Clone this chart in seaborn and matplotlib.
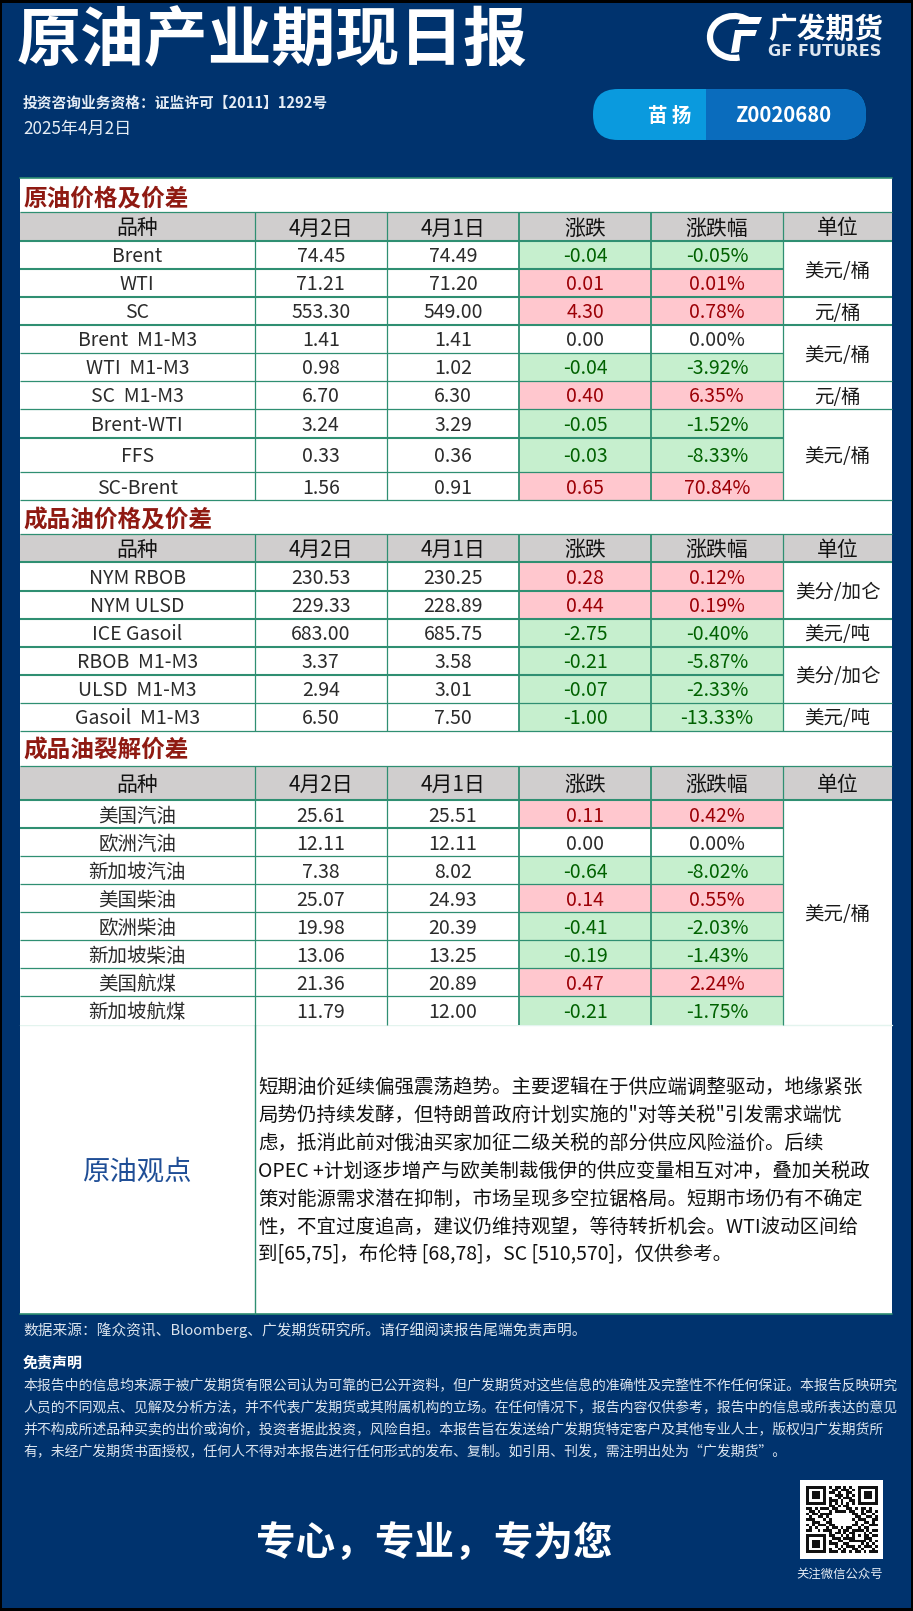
import numpy as np
import pandas as pd
import seaborn as sns
from matplotlib import pyplot as plt
from matplotlib.colors import ListedColormap
from matplotlib.patches import Arc, FancyBboxPatch, Polygon, Rectangle
from matplotlib.transforms import ScaledTranslation

sns.set_theme(style="white")
plt.rcParams['font.family'] = ['Noto Sans CJK SC', 'DejaVu Sans']

W, H = 913, 1611
NAVY = "#00336e"
LINE = "#2f8f72"
DARK_RED = "#8f1a12"

header = ["品种", "4月2日", "4月1日", "涨跌", "涨跌幅", "单位"]

# crude table
crude_names = ["Brent", "WTI", "SC", "Brent  M1-M3", "WTI  M1-M3", "SC  M1-M3", "Brent-WTI", "FFS", "SC-Brent"]
crude_today = [74.45, 71.21, 553.30, 1.41, 0.98, 6.70, 3.24, 0.33, 1.56]
crude_prev = [74.49, 71.20, 549.00, 1.41, 1.02, 6.30, 3.29, 0.36, 0.91]
crude_chg = [-0.04, 0.01, 4.30, 0.00, -0.04, 0.40, -0.05, -0.03, 0.65]
crude_pct = [-0.05, 0.01, 0.78, 0.00, -3.92, 6.35, -1.52, -8.33, 70.84]
crude_units = ["美元/桶", "元/桶", "美元/桶", "元/桶", "美元/桶"]
crude_unit_rows = [2, 1, 2, 1, 3]

# products table
prod_names = ["NYM RBOB", "NYM ULSD", "ICE Gasoil", "RBOB  M1-M3", "ULSD  M1-M3", "Gasoil  M1-M3"]
prod_today = [230.53, 229.33, 683.00, 3.37, 2.94, 6.50]
prod_prev = [230.25, 228.89, 685.75, 3.58, 3.01, 7.50]
prod_chg = [0.28, 0.44, -2.75, -0.21, -0.07, -1.00]
prod_pct = [0.12, 0.19, -0.40, -5.87, -2.33, -13.33]
prod_units = ["美分/加仑", "美元/吨", "美分/加仑", "美元/吨"]
prod_unit_rows = [2, 1, 2, 1]

# crack table
crack_names = ["美国汽油", "欧洲汽油", "新加坡汽油", "美国柴油", "欧洲柴油", "新加坡柴油", "美国航煤", "新加坡航煤"]
crack_today = [25.61, 12.11, 7.38, 25.07, 19.98, 13.06, 21.36, 11.79]
crack_prev = [25.51, 12.11, 8.02, 24.93, 20.39, 13.25, 20.89, 12.00]
crack_chg = [0.11, 0.00, -0.64, 0.14, -0.41, -0.19, 0.47, -0.21]
crack_pct = [0.42, 0.00, -8.02, 0.55, -2.03, -1.43, 2.24, -1.75]
crack_units = ["美元/桶"]
crack_unit_rows = [8]

view_lines = [
    "短期油价延续偏强震荡趋势。主要逻辑在于供应端调整驱动，地缘紧张",
    "局势仍持续发酵，但特朗普政府计划实施的\"对等关税\"引发需求端忧",
    "虑，抵消此前对俄油买家加征二级关税的部分供应风险溢价。后续",
    "OPEC +计划逐步增产与欧美制裁俄伊的供应变量相互对冲，叠加关税政",
    "策对能源需求潜在抑制，市场呈现多空拉锯格局。短期市场仍有不确定",
    "性，不宜过度追高，建议仍维持观望，等待转折机会。WTI波动区间给",
    "到[65,75]，布伦特 [68,78]，SC [510,570]，仅供参考。",
]
disclaimer_lines = [
    "本报告中的信息均来源于被广发期货有限公司认为可靠的已公开资料，但广发期货对这些信息的准确性及完整性不作任何保证。本报告反映研究",
    "人员的不同观点、见解及分析方法，并不代表广发期货或其附属机构的立场。在任何情况下，报告内容仅供参考，报告中的信息或所表达的意见",
    "并不构成所述品种买卖的出价或询价，投资者据此投资，风险自担。本报告旨在发送给广发期货特定客户及其他专业人士，版权归广发期货所",
    "有，未经广发期货书面授权，任何人不得对本报告进行任何形式的发布、复制。如引用、刊发，需注明出处为“广发期货”。",
]

qr_rows = [
    "1111111010110101001111111", "1000001001101110101000001", "1011101011010011001011101",
    "1011101000111010101011101", "1011101010010111001011101", "1000001011101001101000001",
    "1111111010101010101111111", "0000000011010110000000000", "1101011101100011010110100",
    "0110100010111101100101101", "1011011110000000110110010", "0100110100000000011001101",
    "1110001010000000101110011", "0011100110000000010011010", "1010111011000000110100111",
    "0101000101101011001011000", "1100101110010110111101011", "0000000010110101100010100",
    "1111111011001010101011011", "1000001001110111100011100", "1011101010011001111110101",
    "1011101011100110000101010", "1011101000101011101011101", "1000001010010100110100010",
    "1111111011101101011010111",
]

# layout in pixels
col_px = [20, 254.5, 387, 519, 651, 783, 892]
crude_px = [212, 241, 269, 297, 325, 353, 381, 409, 438, 472, 500]
prod_px = [534, 562, 591, 619, 647, 675, 703, 731]
crack_px = [766, 800, 828, 856, 884, 912, 940, 968, 996, 1025]

fig = plt.figure(figsize=(W / 100, H / 100), dpi=100, facecolor="black")
bg = fig.add_axes([0, 0, 1, 1])
bg.set_xlim(0, W)
bg.set_ylim(H, 0)
bg.axis("off")


def txt(x, y, s, size, color="white", **kw):
    kw.setdefault("va", "center")
    bg.text(x, y, s, fontsize=size, color=color, **kw)


bg.add_patch(Rectangle((2, 3), W - 4, H - 6, color=NAVY, lw=0))
bg.add_patch(Rectangle((20, 178), 872, 1136, color="white", lw=0))
bg.plot([20, 892], [178, 178], color=LINE, lw=1.2)
bg.plot([20, 892], [1314, 1314], color=LINE, lw=1.2)
bg.plot([20, 892], [1025, 1025], color="#e3f4ee", lw=1)
bg.plot([254.5, 254.5], [1025, 1314], color=LINE, lw=1)

# header band
txt(17, 42, "原油产业期现日报", 46, fontweight="bold")
txt(23, 103, "投资咨询业务资格：证监许可【2011】1292号", 10.6, fontweight="bold", color="#e6edf5")
txt(23, 129, "2025年4月2日", 12.3, color="#e6edf5")

# logo
bg.add_patch(Arc((734, 37), 48, 42, theta1=75, theta2=315, color="white", lw=4.5))
bg.add_patch(Polygon([(741, 17), (762, 17), (759, 24), (738, 24)], color="white", lw=0))
bg.add_patch(Polygon([(737, 30), (757, 30), (755, 36), (735, 36)], color="white", lw=0))
bg.add_patch(Polygon([(735, 30), (742, 30), (739, 52), (731, 53)], color="white", lw=0))
txt(768, 29, "广发期货", 20.7, fontweight="bold")
txt(768, 51, "GF FUTURES", 11.6, fontweight="bold", color="#dfe7f0", family="DejaVu Sans")

# analyst pill
pill = FancyBboxPatch((593, 89), 273, 51, boxstyle="round,pad=0,rounding_size=25", color="#0a9ade", lw=0)
bg.add_patch(pill)
right = FancyBboxPatch((593, 89), 273, 51, boxstyle="round,pad=0,rounding_size=25", color="#0a6cbd", lw=0)
bg.add_patch(right)
right.set_clip_path(Rectangle((706, 80), 170, 70, transform=bg.transData))
txt(670, 116, "苗 扬", 14, fontweight="bold", ha="center")
txt(783, 116, "Z0020680", 14.6, fontweight="bold", ha="center")

# section titles
for y, s in zip([198, 520, 751], ["原油价格及价差", "成品油价格及价差", "成品油裂解价差"]):
    txt(23, y, s, 17, color=DARK_RED, fontweight="bold")


def draw_table(names, today, prev, chg, pct, units, unit_rows, row_px, thick, faint_last=False):
    n = len(names)
    df = pd.DataFrame({"品种": names, "today": today, "prev": prev, "chg": chg, "pct": pct})
    # 0 white, 1 grey header, 2 green, 3 red
    codes = np.zeros((n + 1, 6))
    codes[0, :] = 1
    labels = [header]
    for i, r in df.iterrows():
        c = 3 if r.chg > 0 else (2 if r.chg < 0 else 0)
        codes[i + 1, 3:5] = c
        labels.append([r["品种"], f"{r.today:.2f}", f"{r.prev:.2f}", f"{r.chg:.2f}", f"{r.pct:.2f}%", ""])
    mask = np.zeros_like(codes, dtype=bool)
    mask[1:, 5] = True

    ax = fig.add_axes([col_px[0] / W, 1 - row_px[-1] / H,
                       (col_px[-1] - col_px[0]) / W, (row_px[-1] - row_px[0]) / H])
    sns.heatmap(codes, ax=ax, mask=mask, cmap=ListedColormap(["white", "#d0cece", "#c6efce", "#ffc7ce"]),
                vmin=0, vmax=3, cbar=False, linewidths=0, xticklabels=False, yticklabels=False,
                annot=np.array(labels), fmt="", annot_kws={"fontsize": 14})
    ax.patch.set_alpha(0)

    # uneven column widths and row heights through the axis scales
    col_idx = np.arange(7)
    row_idx = np.arange(n + 2)
    ax.set_xscale("function", functions=(lambda v: np.interp(v, col_idx, col_px),
                                         lambda v: np.interp(v, col_px, col_idx)))
    ax.set_yscale("function", functions=(lambda v: np.interp(v, row_idx, row_px),
                                         lambda v: np.interp(v, row_px, row_idx)))
    ax.set_xlim(0, 6)
    ax.set_ylim(n + 1, 0)
    ax.set_xticks([])
    ax.set_yticks([])
    ax.grid(False)
    for s in ax.spines.values():
        s.set_visible(False)

    # merged unit cells
    unit_edges = np.cumsum([1] + unit_rows)
    for start, stop, u in zip(unit_edges[:-1], unit_edges[1:], units):
        ymid = np.interp((row_px[start] + row_px[stop]) / 2, row_px, row_idx)
        ax.text(5.5, ymid, u, fontsize=14, color="#1a1a1a", ha="center", va="center")

    # colour and nudge the labels down a little
    text_colors = {0: "#2b2b2b", 1: "#111111", 2: "#006100", 3: "#9c0006"}
    nudge = ScaledTranslation(0, -2 / 100, fig.dpi_scale_trans)
    for t in ax.texts:
        x, y = t.get_position()
        if x != 5.5 or y < 1:
            t.set_color(text_colors[int(codes[int(y), int(x)])])
        if y < 1:
            t.set_fontsize(15)
        t.set_transform(ax.transData + nudge)

    # table rules
    for k in range(n + 2):
        if faint_last and k == n + 1:
            continue
        lw = 1.5 if k in thick else 0.9
        right_end = 6 if (k == 0 or k in unit_edges) else 5
        ax.hlines(k, 0, right_end, color=LINE, lw=lw, clip_on=False)
    for j in range(1, 6):
        lw = 1.3 if j in (3, 4) else 0.9
        ax.vlines(j, 0, n + 1, color=LINE, lw=lw, clip_on=False)
    return ax


draw_table(crude_names, crude_today, crude_prev, crude_chg, crude_pct, crude_units, crude_unit_rows,
           crude_px, thick=[1, 2, 3, 4, 8])
draw_table(prod_names, prod_today, prod_prev, prod_chg, prod_pct, prod_units, prod_unit_rows,
           prod_px, thick=[1, 2, 3, 4, 5])
draw_table(crack_names, crack_today, crack_prev, crack_chg, crack_pct, crack_units, crack_unit_rows,
           crack_px, thick=[1, 2], faint_last=True)

# view box
txt(137, 1172, "原油观点", 19.7, color="#1f4e96", ha="center")
for y, s in zip([1087, 1115, 1143, 1171, 1199, 1227, 1255], view_lines):
    txt(258, y, s, 14, color="#111111")

# foot notes
txt(23, 1330, "数据来源：隆众资讯、Bloomberg、广发期货研究所。请仔细阅读报告尾端免责声明。", 10.6, color="#dbe4ee")
txt(23, 1363, "免责声明", 10.8, fontweight="bold")
for y, s in zip([1385, 1407, 1429, 1451], disclaimer_lines):
    txt(23, y, s, 10, color="#dbe4ee")
txt(434, 1543, "专心，专业，专为您", 28.5, fontweight="bold", ha="center")

# QR block
bg.add_patch(Rectangle((800, 1480), 83, 79, color="white", lw=0))
qr_ax = fig.add_axes([806 / W, 1 - 1553 / H, 72 / W, 67 / H])
qr = np.array([[int(c) for c in r.ljust(25, "0")[:25]] for r in qr_rows])
sns.heatmap(qr, ax=qr_ax, cmap=ListedColormap(["white", "#111111"]), cbar=False,
            xticklabels=False, yticklabels=False, vmin=0, vmax=1)
txt(840, 1574, "关注微信公众号", 8.9, ha="center", color="#e6edf5")

fig.savefig("out.png", dpi=100, facecolor="black")
